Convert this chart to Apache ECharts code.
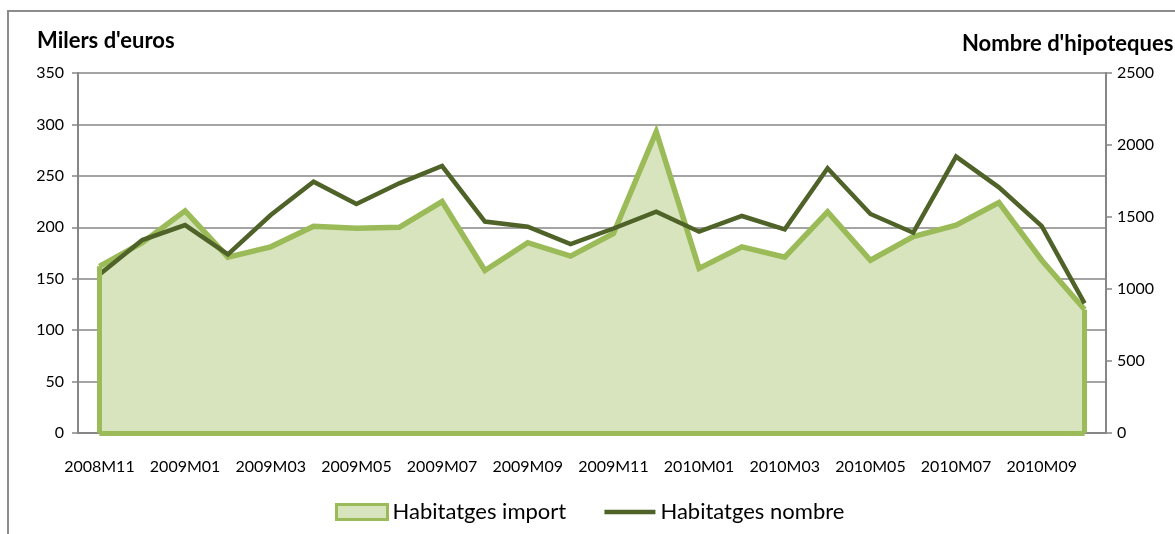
<!DOCTYPE html>
<html>
<head>
<meta charset="utf-8">
<script src="https://cdn.jsdelivr.net/npm/echarts@6/dist/echarts.min.js"></script>
<style>
  html, body { margin: 0; padding: 0; background: #fff; }
  #hipoteques_chart { width: 1175px; height: 534px; }
</style>
</head>
<body>
<div id="hipoteques_chart"></div>
<script>
// Data
// ------------------------------

var months = [
  "2008M11", "2008M12", "2009M01", "2009M02", "2009M03", "2009M04",
  "2009M05", "2009M06", "2009M07", "2009M08", "2009M09", "2009M10",
  "2009M11", "2009M12", "2010M01", "2010M02", "2010M03", "2010M04",
  "2010M05", "2010M06", "2010M07", "2010M08", "2010M09", "2010M10"
];

// Milers d'euros (left axis)
var habitatgesImport = [
  162, 185, 216, 171, 181, 201, 199, 200, 225, 158, 185, 172,
  194, 293, 160, 181, 171, 215, 168, 191, 202, 224, 168, 120
];

// Nombre d'hipoteques (right axis)
var habitatgesNombre = [
  1100, 1340, 1444, 1241, 1514, 1745, 1590, 1734, 1854, 1468, 1433, 1312,
  1420, 1537, 1398, 1507, 1414, 1838, 1521, 1391, 1919, 1706, 1437, 900
];

var leftTicks = { min: 0, max: 350, interval: 50 };
var rightTicks = { min: 0, max: 2500, interval: 500 };

// Chart
// ------------------------------

var chartElement = document.getElementById("hipoteques_chart");
var chart = echarts.init(chartElement);

var fontFamily = "Lato, 'Open Sans', sans-serif";
var lastMonth = months[months.length - 1];
var lastImport = habitatgesImport[habitatgesImport.length - 1];

chart.setOption({
  animation: false,
  color: ["#9BBB59", "#4F6228"],
  textStyle: { fontFamily: fontFamily, color: "#000" },

  grid: { left: 78, right: 69, top: 73, bottom: 101 },

  // Chart frame and axis titles
  graphic: [
    {
      type: "rect",
      shape: { x: 8, y: 11, width: 1400, height: 700 },
      style: { fill: "none", stroke: "#8c8c8c", lineWidth: 2 },
      silent: true
    },
    {
      type: "text",
      left: 37, top: 30,
      style: { text: "Milers d'euros", font: "bold 22px " + fontFamily, fill: "#000" }
    },
    {
      type: "text",
      left: 962, top: 33,
      style: { text: "Nombre d'hipoteques", font: "bold 22px " + fontFamily, fill: "#000" }
    }
  ],

  legend: {
    left: 330,
    top: 496,
    itemWidth: 51,
    itemHeight: 15,
    itemGap: 36,
    textStyle: { fontSize: 22, fontFamily: fontFamily, color: "#000" },
    data: [
      {
        name: "Habitatges import",
        icon: "rect",
        itemStyle: { color: "#D7E4BD", borderColor: "#9BBB59", borderWidth: 3 }
      },
      {
        name: "Habitatges nombre",
        itemStyle: { opacity: 0 },
        lineStyle: { color: "#4F6228", width: 4.5 }
      }
    ]
  },

  xAxis: {
    type: "category",
    data: months,
    boundaryGap: true,
    axisLine: { lineStyle: { color: "#868686", width: 2 } },
    axisTick: { interval: 0, length: 6, lineStyle: { color: "#868686", width: 1.5 } },
    axisLabel: { interval: 1, margin: 26, fontSize: 16, color: "#000" },
    splitLine: { show: false }
  },

  yAxis: [
    {
      type: "value",
      min: leftTicks.min,
      max: leftTicks.max,
      interval: leftTicks.interval,
      axisLine: { show: true, lineStyle: { color: "#868686", width: 2 } },
      axisTick: { show: true, length: 6, lineStyle: { color: "#868686", width: 1.5 } },
      axisLabel: { margin: 14, fontSize: 16, color: "#000" },
      splitLine: { lineStyle: { color: "#868686", width: 1.5 } }
    },
    {
      type: "value",
      min: rightTicks.min,
      max: rightTicks.max,
      interval: rightTicks.interval,
      position: "right",
      axisLine: { show: true, lineStyle: { color: "#868686", width: 2 } },
      axisTick: { show: true, length: 6, lineStyle: { color: "#868686", width: 1.5 } },
      axisLabel: {
        margin: 11,
        fontSize: 16,
        color: "#000",
        formatter: function (v) { return String(v); }
      },
      splitLine: { show: false }
    }
  ],

  series: [
    {
      name: "Habitatges import",
      type: "line",
      yAxisIndex: 0,
      data: habitatgesImport,
      symbol: "none",
      z: 2,
      lineStyle: { color: "#9BBB59", width: 5.5, join: "miter" },
      areaStyle: { color: "#D7E4BD", opacity: 1 },
      itemStyle: { color: "#9BBB59" },
      // Area outline: vertical edges and base
      markLine: {
        silent: true,
        symbol: "none",
        label: { show: false },
        lineStyle: { color: "#9BBB59", width: 5, type: "solid" },
        data: [
          [{ coord: [months[0], 0] }, { coord: [months[0], habitatgesImport[0]] }],
          [{ coord: [lastMonth, 0] }, { coord: [lastMonth, lastImport] }],
          [{ coord: [months[0], 0] }, { coord: [lastMonth, 0] }]
        ]
      }
    },
    {
      name: "Habitatges nombre",
      type: "line",
      yAxisIndex: 1,
      data: habitatgesNombre,
      symbol: "none",
      z: 3,
      lineStyle: { color: "#4F6228", width: 4.5, join: "miter" },
      itemStyle: { color: "#4F6228" }
    }
  ]
});

window.addEventListener("resize", function () {
  chart.resize();
});
</script>
</body>
</html>
